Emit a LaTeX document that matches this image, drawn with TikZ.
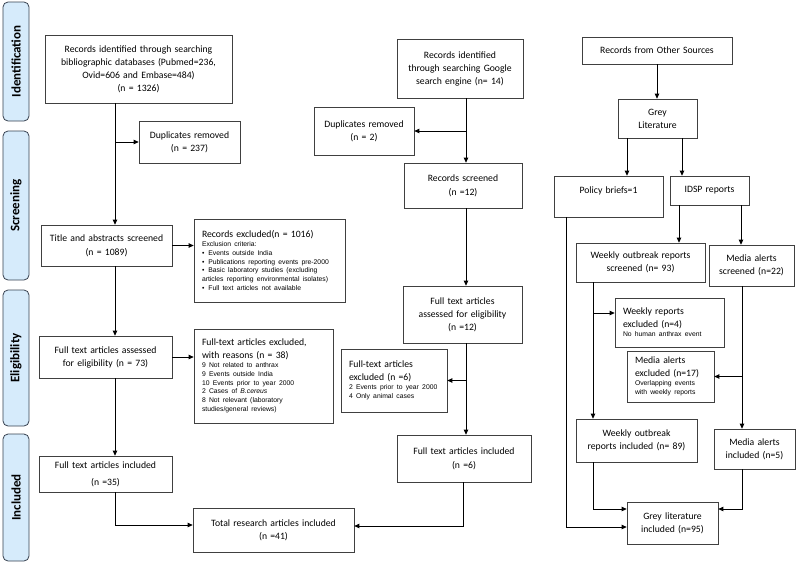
\documentclass[tikz,border=0pt]{standalone}
\usepackage{fontspec}
\setmainfont{Carlito}
\newfontfamily\arialfont{Liberation Sans}
\usetikzlibrary{arrows.meta,calc}
\definecolor{stagefill}{RGB}{214,235,251}
\definecolor{stageline}{RGB}{55,65,80}
\def\mainsize{\fontsize{9.7}{13}\selectfont}
\def\smalltxt{\arialfont\fontsize{6.8}{8.8}\selectfont}
\def\bul{\textbullet\hspace{4pt}}
\tikzset{
  box/.style={
    draw=black!75,fill=white,line width=0.7pt,
    inner sep=0pt,align=center,
    font=\mainsize
},
  lbox/.style={box,align=left},
  sz/.code 2 args={%
    \pgfmathsetmacro\tw{#1-16}%
    \tikzset{minimum width=#1pt,minimum height=#2pt,text width=\tw pt}%
},
  stage/.style={
    rotate=90,rounded corners=5pt,
    draw=stageline,fill=stagefill,line width=0.8pt,
    minimum height=26pt,inner sep=0pt,
    font=\fontsize{13}{15}\selectfont\bfseries
},
  arr/.style={-{Triangle[length=5pt,width=4.5pt]},line width=0.8pt}
}
\begin{document}
\begin{tikzpicture}[x=1pt,y=-1pt,line cap=butt,line join=miter]
\useasboundingbox (0,0) rectangle (796,563);
\foreach \lab/\ymid/\len[count=\i] in {Identification/61.5/119,Screening/205.5/149,Eligibility/358/136,Included/497.5/127}{
    \node[stage,minimum width=\len pt] (stage-\i) at (16,\ymid) {\lab};
}
% databases
\node[box,sz={187}{68}] (dbSrc) at (138.5,69) {Records identified through searching\\bibliographic databases (Pubmed=236,\\Ovid=606 and Embase=484)\\(n = 1326)};
\node[box,sz={101}{42}] (dupL) at (189.5,142) {Duplicates removed\\(n = 237)};
\node[box,sz={131}{41}] (scrL) at (106.5,245.5) {Title and abstracts screened\\[1pt](n = 1089)};
\node[lbox,sz={151}{83}] (exclL) at (269.5,260.5) {{\mainsize Records excluded(n = 1016)\par}%
    {\smalltxt Exclusion criteria:\\
    \bul Events outside India\\
    \bul Publications reporting events pre-2000\\
    \bul Basic laboratory studies (excluding\\
    articles reporting environmental isolates)\\
    \bul Full text articles not available\par}};
\node[box,sz={133}{42}] (eligL) at (105.5,357) {Full text articles assessed\\for eligibility (n = 73)};
\node[lbox,sz={139}{94}] (exclR) at (263.5,376) {{\mainsize Full-text articles excluded,\\with reasons (n = 38)\par}%
    {\smalltxt 9 Not related to anthrax\\
    9 Events outside India\\
    10 Events prior to year 2000\\
    2 Cases of \textit{B.cereus}\\
    8 Not relevant (laboratory\\
    studies/general reviews)\par}};
\node[box,sz={133}{36}] (inclL) at (105.5,474) {Full text articles included\\[4pt](n =35)};
\node[box,sz={161}{44}] (total) at (273.5,530) {Total research articles included\\(n =41)};
% google
\node[box,sz={126}{59}] (gSrc) at (460,68.5) {Records identified\\through searching Google\\search engine (n= 14)};
\node[box,sz={100}{48}] (dupM) at (364,131) {Duplicates removed\\(n = 2)};
\node[box,sz={118}{45}] (scrM) at (463,185.5) {Records screened\\[1pt](n =12)};
\node[box,sz={119}{57}] (eligM) at (462.5,314.5) {Full text articles\\assessed for eligibility\\(n =12)};
\node[lbox,sz={106}{63}] (exclM) at (394,380.5) {{\mainsize Full-text articles\\excluded (n =6)\par}%
    {\smalltxt 2 Events prior to year 2000\\
    4 Only animal cases\par}};
\node[box,sz={134}{47}] (inclM) at (464,458.5) {Full text articles included\\[1pt](n =6)};
% other sources
\node[box,sz={150}{27}] (oSrc) at (657,50.5) {Records from Other Sources};
\node[box,sz={79}{39}] (grey) at (657.5,118.5) {Grey\\Literature};
\node[box,sz={109}{41}] (policy) at (608.5,196.5) {Policy briefs=1\\~};
\node[box,sz={79}{29}] (idsp) at (709.5,190.5) {IDSP reports};
\node[box,sz={129}{39}] (wkScr) at (640.5,262.5) {Weekly outbreak reports\\screened (n= 93)};
\node[box,sz={85}{41}] (mdScr) at (751.5,265.5) {Media alerts\\screened (n=22)};
\node[lbox,sz={109}{49}] (wkExc) at (669.5,322.5) {{\mainsize Weekly reports\\excluded (n=4)\par}%
    {\smalltxt No human anthrax event\par}};
\node[lbox,sz={87}{51}] (mdExc) at (670.5,376.5) {{\mainsize Media alerts\\excluded (n=17)\par}%
    {\smalltxt Overlapping events\\with weekly reports\par}};
\node[box,sz={121}{43}] (wkInc) at (636.5,440.5) {Weekly outbreak\\reports included (n= 89)};
\node[box,sz={81}{40}] (mdInc) at (754.5,449) {Media alerts\\included (n=5)};
\node[box,sz={91}{42}] (greyInc) at (672.5,523) {Grey literature\\included (n=95)};
% trunk lines
\coordinate (tL) at (115,0);
\coordinate (tM) at (466,0);
\coordinate (tM2) at (463,0);
\coordinate (xPol) at (566,0);
\coordinate (xG1) at (627,0);
\coordinate (xG2) at (682,0);
\coordinate (xI1) at (679,0);
\coordinate (xI2) at (741,0);
\coordinate (xWk) at (593,0);
\coordinate (xMd) at (742,0);
\draw[arr] (dbSrc.south -| tL) -- (scrL.north -| tL);
\draw[arr] (dupL.west -| tL) -- (dupL.west);
\draw[arr] (scrL.south -| tL) -- (eligL.north -| tL);
\draw[arr] (eligL.south -| tL) -- (inclL.north -| tL);
\draw[arr] (scrL.east) -- (scrL.east -| exclL.west);
\draw[arr] (eligL.east) -- (eligL.east -| exclR.west);
\draw[arr] (inclL.south -| tL) |- ([yshift=5pt]total.west);
\draw[arr] (gSrc.south -| tM) -- (scrM.north -| tM);
\draw[arr] (dupM.east -| tM) -- (dupM.east);
\draw[arr] (scrM.south -| tM) -- (eligM.north -| tM);
\draw[arr] (eligM.south -| tM) -- (inclM.north -| tM);
\draw[arr] (exclM.east -| tM) -- (exclM.east);
\draw[arr] (inclM.south -| tM2) |- ([yshift=4pt]total.east);
\draw[arr] (oSrc.south) -- (oSrc.south |- grey.north);
\draw[arr] (grey.south -| xG1) -- (policy.north -| xG1);
\draw[arr] (grey.south -| xG2) -- (idsp.north -| xG2);
\draw[arr] (idsp.south -| xI1) -- (wkScr.north -| xI1);
\draw[arr] (idsp.south -| xI2) -- (mdScr.north -| xI2);
\draw[arr] (wkScr.south -| xWk) -- (wkInc.north -| xWk);
\draw[arr] ([yshift=9.5pt]wkExc.west -| xWk) -- ([yshift=9.5pt]wkExc.west);
\draw[arr] (mdScr.south -| xMd) -- (mdInc.north -| xMd);
\draw[arr] (mdExc.east -| xMd) -- (mdExc.east);
\draw[arr] (wkInc.south -| xWk) |- ([yshift=14pt]greyInc.west);
\draw[arr] (mdInc.south -| xMd) |- ([yshift=14pt]greyInc.east);
\draw[arr] (policy.south -| xPol) |- ([yshift=-4pt]greyInc.west);
\end{tikzpicture}
\end{document}
